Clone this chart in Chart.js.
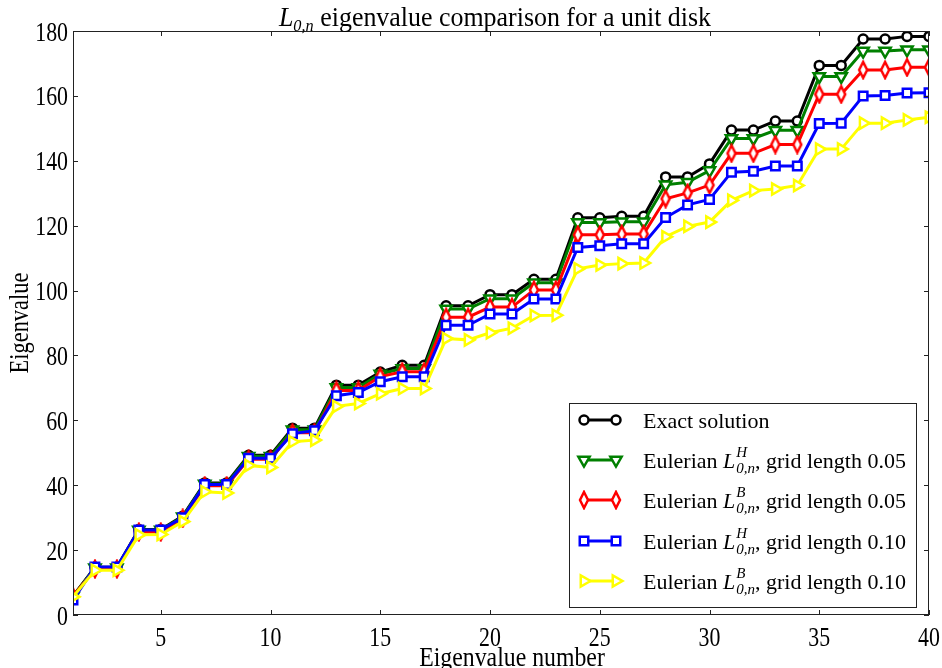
<!DOCTYPE html>
<html>
<head>
<meta charset="utf-8">
<script src="https://cdn.jsdelivr.net/npm/chart.js@4/dist/chart.umd.min.js"></script>
<style>
  html, body { margin: 0; padding: 0; background: #fff; }
  #chart { display: block; }
</style>
</head>
<body>
<canvas id="chart" width="942" height="668"></canvas>
<script>
// eigenvalue index (x axis)
const eigenNumber = [1, 2, 3, 4, 5, 6, 7, 8, 9, 10, 11, 12, 13, 14, 15, 16, 17, 18, 19, 20,
  21, 22, 23, 24, 25, 26, 27, 28, 29, 30, 31, 32, 33, 34, 35, 36, 37, 38, 39, 40];

const exactSolution = [5.78, 14.68, 14.68, 26.37, 26.37, 30.47, 40.71, 40.71, 49.22, 49.22,
  57.58, 57.58, 70.85, 70.85, 74.89, 76.94, 76.94, 95.28, 95.28, 98.73,
  98.73, 103.5, 103.5, 122.43, 122.43, 122.91, 122.91, 135.02, 135.02, 139.04,
  149.45, 149.45, 152.24, 152.24, 169.4, 169.4, 177.52, 177.52, 178.34, 178.34];

const eulerH005 = [5.75, 14.6, 14.6, 26.2, 26.2, 30.3, 40.4, 40.4, 48.9, 48.9,
  57.1, 57.1, 70.1, 70.1, 74.3, 76.0, 76.0, 94.3, 94.3, 97.5,
  97.5, 102.4, 102.4, 121.0, 121.0, 121.2, 121.2, 132.6, 133.4, 137.0,
  146.9, 146.9, 149.4, 149.4, 166.0, 166.0, 173.8, 173.8, 174.2, 174.2];

const eulerB005 = [5.7, 14.2, 14.2, 25.6, 25.6, 29.8, 39.8, 39.8, 48.0, 48.0,
  56.2, 56.2, 69.2, 69.2, 73.5, 75.0, 75.0, 91.8, 91.8, 94.9,
  94.9, 100.2, 100.2, 117.2, 117.2, 117.4, 117.4, 128.3, 130.1, 132.5,
  142.3, 142.3, 145.0, 145.0, 160.5, 160.5, 168.0, 168.0, 168.8, 168.8];

const eulerH010 = [4.6, 14.8, 14.8, 26.2, 26.2, 30.0, 40.2, 40.2, 48.3, 48.3,
  55.9, 56.8, 67.6, 68.6, 71.9, 73.4, 73.4, 89.3, 89.3, 92.8,
  92.8, 97.4, 97.4, 113.3, 113.8, 114.4, 114.4, 122.5, 126.4, 128.1,
  136.5, 136.8, 138.4, 138.4, 151.5, 151.6, 160.0, 160.1, 160.9, 161.0];

const eulerB010 = [5.6, 13.8, 13.8, 24.7, 24.8, 28.8, 38.0, 37.6, 46.1, 45.5,
  53.4, 53.9, 64.3, 65.2, 68.2, 69.8, 69.8, 85.2, 84.8, 87.0,
  88.4, 92.3, 92.4, 106.7, 107.9, 108.3, 108.5, 116.6, 119.8, 121.1,
  127.8, 130.8, 131.3, 132.4, 143.6, 143.6, 151.6, 151.6, 152.6, 153.4];

const xTicks = [5, 10, 15, 20, 25, 30, 35, 40];
const yTicks = [0, 20, 40, 60, 80, 100, 120, 140, 160, 180];

// legend text: "Eulerian L^{sup}_{0,n}, grid length X"
const legendSup = ['', 'H', 'B', 'H', 'B'];
const legendGrid = ['', '0.05', '0.05', '0.10', '0.10'];

const serif = '"Liberation Serif", "Times New Roman", serif';

// thin diamond marker (matplotlib 'd')
function thinDiamond(color) {
  const c = document.createElement('canvas');
  c.width = 14;
  c.height = 20;
  const g = c.getContext('2d');
  g.beginPath();
  g.moveTo(7, 2);
  g.lineTo(11, 10);
  g.lineTo(7, 18);
  g.lineTo(3, 10);
  g.closePath();
  g.fillStyle = '#fff';
  g.fill();
  g.lineWidth = 2.5;
  g.strokeStyle = color;
  g.stroke();
  return c;
}

const toPoints = (vals) => eigenNumber.map((n, i) => ({ x: n, y: vals[i] }));

function series(label, vals, color, pointStyle, radius, rotation, order) {
  return {
    label,
    data: toPoints(vals),
    borderColor: color,
    backgroundColor: '#fff',
    borderWidth: 3,
    pointStyle,
    pointRadius: radius,
    pointRotation: rotation,
    pointBorderWidth: 2.5,
    pointBorderColor: color,
    pointBackgroundColor: '#fff',
    pointHoverRadius: radius,
    order,
    clip: 0,
  };
}

// draws text squeezed horizontally like the original figure
function squeezed(ctx, text, x, y, font, sx, align) {
  ctx.save();
  ctx.translate(x, y);
  ctx.scale(sx, 1);
  ctx.font = font;
  ctx.textAlign = align;
  ctx.textBaseline = 'alphabetic';
  ctx.fillText(text, 0, 0);
  ctx.restore();
}

const axesPlugin = {
  id: 'mplAxes',
  afterDatasetsDraw(chart) {
    const { ctx, chartArea: a, scales } = chart;
    const xs = scales.x;
    const ys = scales.y;
    ctx.save();

    // frame
    ctx.strokeStyle = '#222';
    ctx.lineWidth = 1;
    ctx.strokeRect(a.left + 0.5, a.top + 0.5, a.right - a.left - 1, a.bottom - a.top - 1);

    // inward ticks on all sides
    ctx.beginPath();
    xTicks.forEach((v) => {
      const px = Math.round(xs.getPixelForValue(v)) + 0.5;
      ctx.moveTo(px, a.bottom);
      ctx.lineTo(px, a.bottom - 5);
      ctx.moveTo(px, a.top);
      ctx.lineTo(px, a.top + 5);
    });
    yTicks.forEach((v) => {
      const py = Math.round(ys.getPixelForValue(v)) + 0.5;
      ctx.moveTo(a.left, py);
      ctx.lineTo(a.left + 5, py);
      ctx.moveTo(a.right, py);
      ctx.lineTo(a.right - 5, py);
    });
    ctx.stroke();

    // tick labels
    ctx.fillStyle = '#000';
    const tickFont = '28px ' + serif;
    xTicks.forEach((v) => {
      squeezed(ctx, String(v), xs.getPixelForValue(v), a.bottom + 31, tickFont, 0.78, 'center');
    });
    yTicks.forEach((v) => {
      squeezed(ctx, String(v), a.left - 5, ys.getPixelForValue(v) + 9.5, tickFont, 0.78, 'right');
    });

    // axis titles
    squeezed(ctx, 'Eigenvalue number', 512, 666, '28px ' + serif, 0.85, 'center');
    ctx.save();
    ctx.translate(28, (a.top + a.bottom) / 2);
    ctx.rotate(-Math.PI / 2);
    squeezed(ctx, 'Eigenvalue', 0, 0, '28px ' + serif, 0.8, 'center');
    ctx.restore();

    // chart title with L_{0,n}
    const sx = 0.96;
    const parts = [
      { t: 'L', font: 'italic 27px ' + serif, dy: 0 },
      { t: '0,n', font: 'italic 17px ' + serif, dy: 5 },
      { t: ' eigenvalue comparison for a unit disk', font: '27px ' + serif, dy: 0 },
    ];
    let total = 0;
    parts.forEach((p) => {
      ctx.font = p.font;
      p.w = ctx.measureText(p.t).width * sx;
      total += p.w;
    });
    let tx = 495 - total / 2;
    parts.forEach((p) => {
      squeezed(ctx, p.t, tx, 26 + p.dy, p.font, sx, 'left');
      tx += p.w;
    });

    // legend
    const box = { x: 569.5, y: 403.5, w: 347, h: 204 };
    ctx.fillStyle = '#fff';
    ctx.fillRect(box.x, box.y, box.w, box.h);
    ctx.strokeStyle = '#222';
    ctx.lineWidth = 1;
    ctx.strokeRect(box.x, box.y, box.w, box.h);

    const rows = [420, 460, 500, 541, 581];
    const sets = chart.data.datasets;
    sets.forEach((ds, i) => {
      const cy = rows[i];
      ctx.strokeStyle = ds.borderColor;
      ctx.lineWidth = ds.borderWidth;
      ctx.beginPath();
      ctx.moveTo(584, cy);
      ctx.lineTo(616, cy);
      ctx.stroke();
      [584, 616].forEach((mx) => {
        ctx.fillStyle = '#fff';
        ctx.strokeStyle = ds.borderColor;
        ctx.lineWidth = ds.pointBorderWidth;
        Chart.helpers.drawPoint(ctx, {
          pointStyle: ds.pointStyle,
          rotation: ds.pointRotation,
          radius: ds.pointRadius,
          borderWidth: ds.pointBorderWidth,
        }, mx, cy);
      });

      ctx.fillStyle = '#000';
      ctx.textAlign = 'left';
      ctx.textBaseline = 'alphabetic';
      const base = cy + 7.5;
      let lx = 643;
      if (!legendSup[i]) {
        ctx.font = '22px ' + serif;
        ctx.fillText(ds.label, lx, base);
        return;
      }
      ctx.font = '22px ' + serif;
      ctx.fillText('Eulerian ', lx, base);
      lx += ctx.measureText('Eulerian ').width;
      ctx.font = 'italic 22px ' + serif;
      ctx.fillText('L', lx, base);
      lx += ctx.measureText('L').width + 1;
      ctx.font = 'italic 15px ' + serif;
      ctx.fillText(legendSup[i], lx, base - 11);
      ctx.fillText('0,n', lx, base + 5);
      lx += Math.max(ctx.measureText(legendSup[i]).width, ctx.measureText('0,n').width);
      ctx.font = '22px ' + serif;
      ctx.fillText(', grid length ' + legendGrid[i], lx, base);
    });

    ctx.restore();
  },
};

const datasets = [
  series('Exact solution', exactSolution, '#000000', 'circle', 4.5, 0, 5),
  series('Eulerian L^H_0,n, grid length 0.05', eulerH005, '#008000', 'triangle', 6.5, 180, 4),
  series('Eulerian L^B_0,n, grid length 0.05', eulerB005, '#ff0000', thinDiamond('#ff0000'), 7, 0, 3),
  series('Eulerian L^H_0,n, grid length 0.10', eulerH010, '#0000ff', 'rect', 6, 0, 2),
  series('Eulerian L^B_0,n, grid length 0.10', eulerB010, '#ffff00', 'triangle', 6.5, 90, 1),
];

new Chart(document.getElementById('chart').getContext('2d'), {
  type: 'line',
  data: { datasets },
  options: {
    responsive: false,
    animation: false,
    layout: { padding: { left: 73, right: 13, top: 31, bottom: 53 } },
    scales: {
      x: { type: 'linear', display: false, min: 1, max: 40 },
      y: { type: 'linear', display: false, min: 0, max: 180 },
    },
    plugins: {
      legend: { display: false },
      title: { display: false },
      tooltip: { enabled: false },
    },
  },
  plugins: [axesPlugin],
});
</script>
</body>
</html>
